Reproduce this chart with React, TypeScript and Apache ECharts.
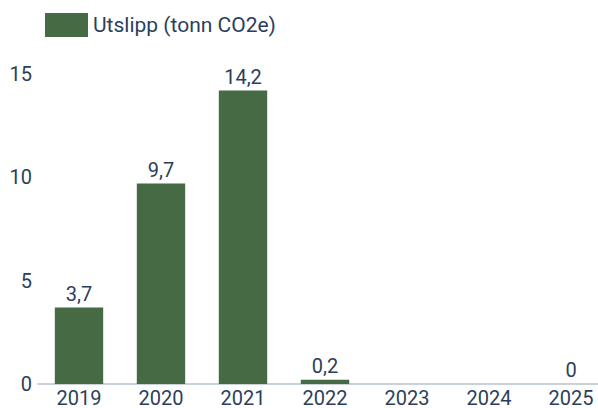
import React, { useEffect, useRef } from "react";
import * as echarts from "echarts";

const categories = ["2019", "2020", "2021", "2022", "2023", "2024", "2025"];
const emissions: (number | null)[] = [3.7, 9.7, 14.2, 0.2, null, null, 0];
const seriesName = "Utslipp (tonn CO2e)";
const yTicks = [0, 5, 10, 15];

export default function App() {
  const ref = useRef<HTMLDivElement>(null);
  useEffect(() => {
    if (!ref.current) return;
    const chart = echarts.init(ref.current, undefined, { renderer: "svg" });
    const textColor = "#2b3f5c";
    chart.setOption({
      animation: false,
      textStyle: { fontFamily: "Roboto" },
      legend: {
        data: [seriesName],
        left: 40,
        top: 8,
        itemWidth: 43,
        itemHeight: 24,
        itemGap: 10,
        textStyle: { fontSize: 21, color: textColor, fontFamily: "Roboto" },
        icon: "rect",
      },
      grid: { left: 38, right: 0, top: 74, bottom: 22, containLabel: false },
      xAxis: {
        type: "category",
        data: categories,
        axisLine: { lineStyle: { color: "#c9d2da", width: 2 } },
        axisTick: { show: false },
        axisLabel: { color: textColor, fontSize: 20, margin: 4, fontFamily: "Roboto" },
      },
      yAxis: {
        type: "value",
        min: yTicks[0],
        max: yTicks[yTicks.length - 1],
        interval: 5,
        splitLine: { show: false },
        axisLine: { show: false },
        axisTick: { show: false },
        axisLabel: { color: textColor, fontSize: 20, margin: 6, fontFamily: "Roboto" },
      },
      series: [
        {
          name: seriesName,
          type: "bar",
          data: emissions,
          barWidth: "59%",
          itemStyle: { color: "#466a43" },
          label: {
            show: true,
            position: "top",
            distance: 4,
            color: textColor,
            fontSize: 20,
            fontFamily: "Roboto",
            formatter: (p: any) =>
              p.value === null || p.value === undefined ? "" : String(p.value).replace(".", ","),
          },
        },
      ],
    });
    return () => chart.dispose();
  }, []);
  return (
    <div style={{ position: "absolute", left: 0, top: 0, width: 598, height: 408, overflow: "hidden" }}>
      <div ref={ref} style={{ width: 612, height: 408 }} />
    </div>
  );
}
